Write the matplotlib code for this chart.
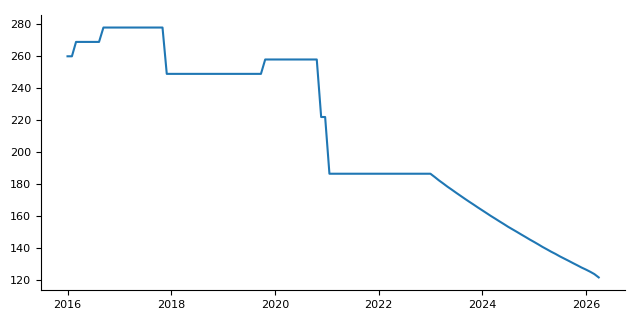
import matplotlib
matplotlib.use("Agg")
import matplotlib.pyplot as plt
import pandas as pd

# monthly series; flat stretches are kept only at their break points
dates = ["2016-01-01", "2016-02-01", "2016-03-01", "2016-08-10", "2016-09-10",
         "2017-11-01", "2017-12-01", "2019-09-25", "2019-10-25", "2020-10-22",
         "2020-11-22", "2020-12-20", "2021-01-20",
         "2023-01-01", "2023-02-01", "2023-03-01", "2023-04-01", "2023-05-01", "2023-06-01",
         "2023-07-01", "2023-08-01", "2023-09-01", "2023-10-01", "2023-11-01", "2023-12-01",
         "2024-01-01", "2024-02-01", "2024-03-01", "2024-04-01", "2024-05-01", "2024-06-01",
         "2024-07-01", "2024-08-01", "2024-09-01", "2024-10-01", "2024-11-01", "2024-12-01",
         "2025-01-01", "2025-02-01", "2025-03-01", "2025-04-01", "2025-05-01", "2025-06-01",
         "2025-07-01", "2025-08-01", "2025-09-01", "2025-10-01", "2025-11-01", "2025-12-01",
         "2026-01-01", "2026-02-01", "2026-03-01", "2026-04-01"]
values = [260, 260, 269, 269, 278,
          278, 249, 249, 258, 258,
          222, 222, 186.5,
          186.5, 184.4, 182.4, 180.4, 178.4, 176.5,
          174.6, 172.7, 170.8, 169.0, 167.2, 165.4,
          163.6, 161.8, 160.1, 158.4, 156.7, 155.0,
          153.3, 151.7, 150.1, 148.5, 146.9, 145.3,
          143.8, 142.2, 140.7, 139.2, 137.7, 136.3,
          134.8, 133.4, 132.0, 130.6, 129.2, 127.8,
          126.5, 125.1, 123.7, 121.6]

d = pd.to_datetime(dates)
x = d.year + (d.dayofyear - 1) / 365.25

fig = plt.figure(figsize=(6.4, 3.2), dpi=100)
ax = fig.add_axes([0.064, 0.094, 0.913, 0.859])
ax.plot(x, values, color="tab:blue", linewidth=1.5)

ax.set_xticks([2016, 2018, 2020, 2022, 2024, 2026])
ax.set_yticks(range(120, 281, 20))
ax.tick_params(labelsize=8)
ax.spines["top"].set_visible(False)
ax.spines["right"].set_visible(False)

fig.savefig("out.png", dpi=100)
